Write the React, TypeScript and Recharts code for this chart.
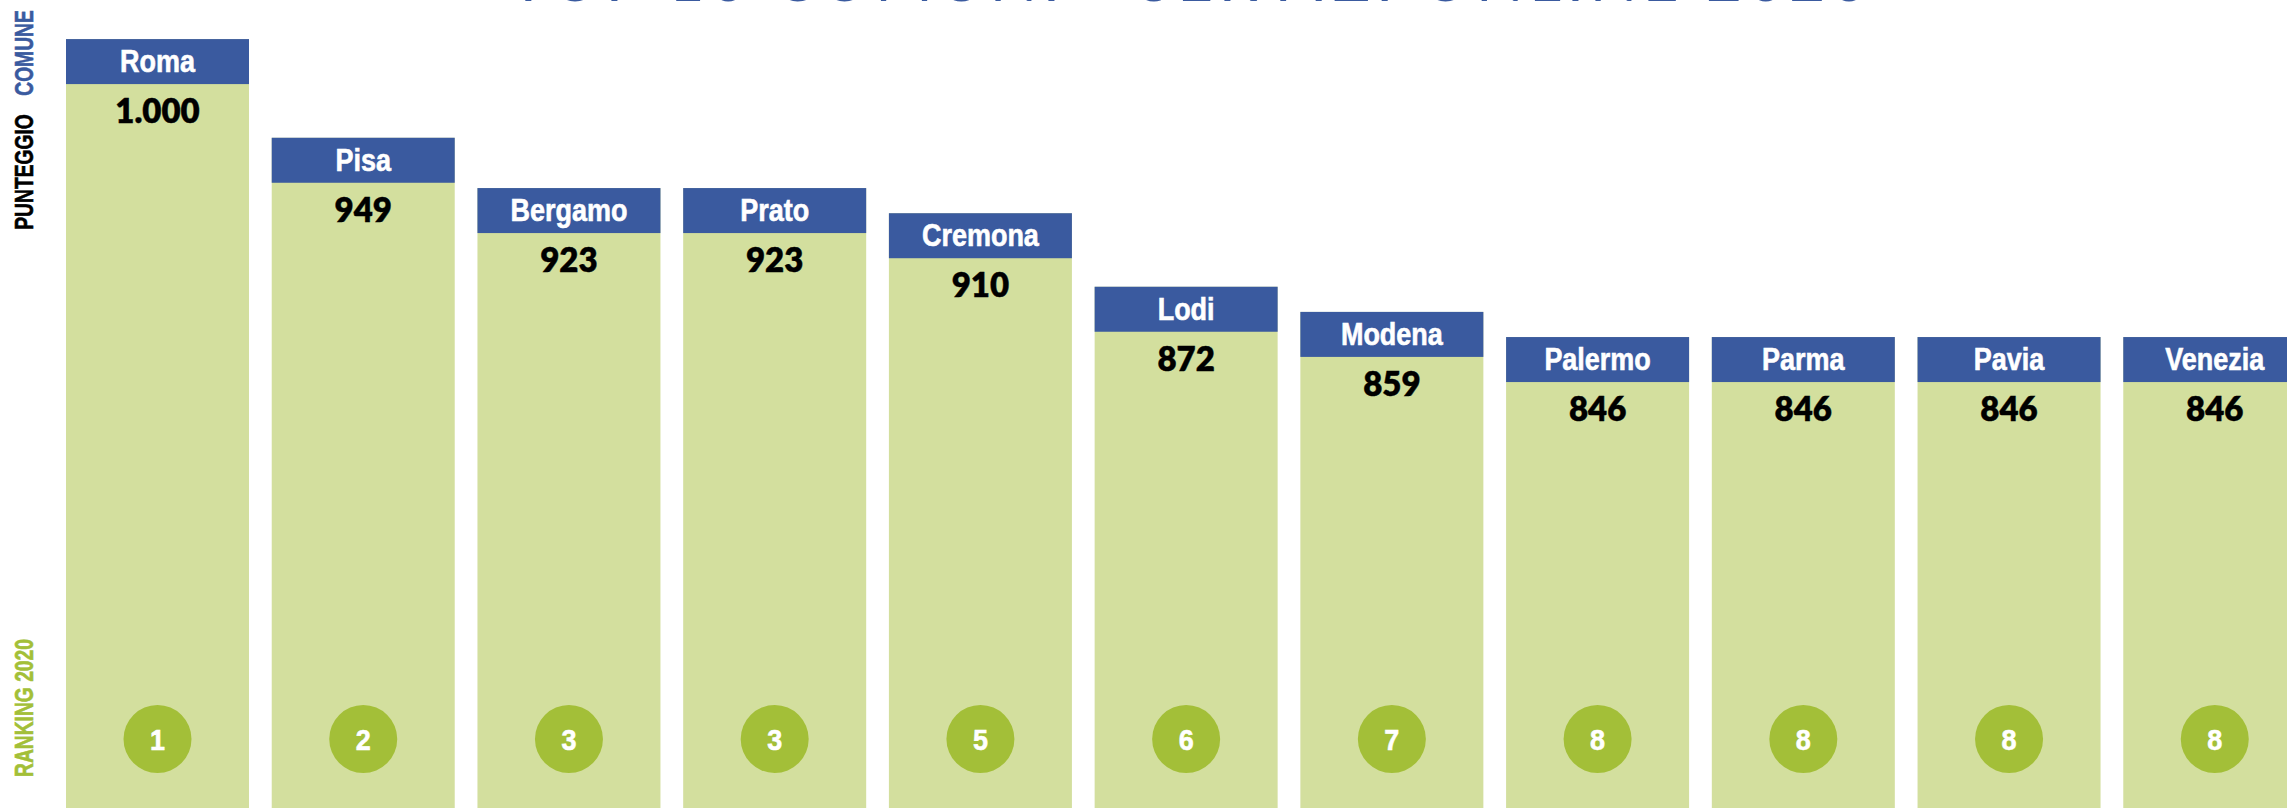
import React from 'react';
import { BarChart, Bar, XAxis, YAxis, Customized } from 'recharts';

const comuni = ['Roma', 'Pisa', 'Bergamo', 'Prato', 'Cremona', 'Lodi', 'Modena', 'Palermo', 'Parma', 'Pavia', 'Venezia'];
const punteggi = [1000, 949, 923, 923, 910, 872, 859, 846, 846, 846, 846];
const ranking = [1, 2, 3, 3, 5, 6, 7, 8, 8, 8, 8];

const TITLE = 'TOP 10 COMUNI - SERVIZI ONLINE 2020';

const data = comuni.map((c, i) => ({ comune: c, punteggio: punteggi[i], rank: ranking[i] }));

const BLUE = '#3a5a9f';
const GREEN_BAR = '#d3df9e';
const GREEN_DOT = '#a3bf38';
const SANS = '"Liberation Sans", Arial, sans-serif';
const HEADER_H = 45;

// italian thousands separator
const fmt = (v: number) => String(v).replace(/\B(?=(\d{3})+(?!\d))/g, '.');

// no condensed font installed, so squeeze a bold sans horizontally
const Narrow = ({ x, y, sx = 0.87, rotate = 0, children, fill, ...rest }: any) => (
  <text
    x={0}
    y={0}
    transform={`translate(${x}, ${y}) rotate(${rotate}) scale(${sx}, 1)`}
    fontFamily={SANS}
    fontWeight={700}
    fill={fill}
    stroke={fill}
    strokeWidth={0.6}
    {...rest}
  >
    {children}
  </text>
);

const ScoreBar = (props: any) => {
  const { x, y, width, height, payload } = props;
  const cx = x + width / 2;
  const bottom = y + height;
  return (
    <g>
      <rect x={x} y={y} width={width} height={height} fill={GREEN_BAR} />
      <rect x={x} y={y} width={width} height={HEADER_H} fill={BLUE} />
      <Narrow x={cx} y={y + 33} textAnchor="middle" fill="#fff" fontSize={31}>
        {payload.comune}
      </Narrow>
      <text
        x={cx}
        y={y + HEADER_H + 39}
        textAnchor="middle"
        fill="#000"
        stroke="#000"
        strokeWidth={0.4}
        fontFamily="Lato, sans-serif"
        fontWeight={800}
        fontSize={33}
      >
        {fmt(payload.punteggio)}
      </text>
      <circle cx={cx} cy={bottom - 69} r={34} fill={GREEN_DOT} />
      <Narrow x={cx} y={bottom - 58} sx={0.9} textAnchor="middle" fill="#fff" fontSize={30}>
        {payload.rank}
      </Narrow>
    </g>
  );
};

const SideLabels = () => {
  const side = (label: string, cy: number, color: string) => (
    <Narrow x={33} y={cy} sx={0.77} rotate={-90} textAnchor="middle" fill={color} fontSize={25}>
      {label}
    </Narrow>
  );
  return (
    <g>
      <text
        x={510}
        y={1}
        textLength={1357}
        lengthAdjust="spacing"
        fill={BLUE}
        fontFamily="Lato, sans-serif"
        fontSize={62}
      >
        {TITLE}
      </text>
      {side('COMUNE', 53, BLUE)}
      {side('PUNTEGGIO', 172, '#000')}
      {side('RANKING 2020', 708, GREEN_DOT)}
    </g>
  );
};

export default function App() {
  return (
    <div
      style={{
        position: 'fixed',
        left: 0,
        top: 0,
        width: 2287,
        height: 808,
        overflow: 'hidden',
        background: '#fff',
      }}
    >
      <BarChart
        width={2318}
        height={808}
        data={data}
        margin={{ top: 0, right: 0, bottom: 0, left: 55 }}
        barSize={183}
      >
        <XAxis dataKey="comune" hide />
        <YAxis type="number" domain={[602.6, 1020.2]} allowDataOverflow hide width={0} />
        <Bar dataKey="punteggio" shape={<ScoreBar />} isAnimationActive={false} />
        <Customized component={SideLabels} />
      </BarChart>
    </div>
  );
}
